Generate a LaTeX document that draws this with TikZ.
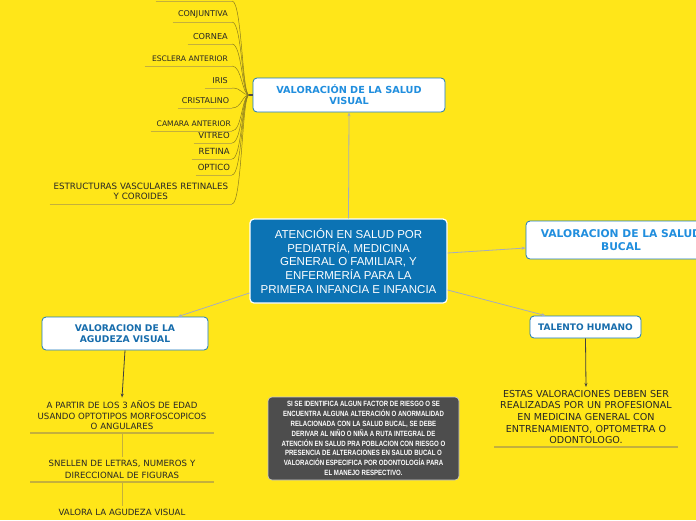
\documentclass[tikz,border=0pt]{standalone}
\usepackage{fontspec}
\setmainfont{DejaVu Sans}
\newfontfamily\arialfont{Liberation Sans}
\newfontfamily\narrowfont[FakeStretch=0.8]{Liberation Sans}
\usetikzlibrary{arrows.meta}
\definecolor{MapYellow}{RGB}{255,230,25}
\definecolor{MapBlue}{RGB}{12,115,180}
\definecolor{TitleBlue}{RGB}{32,142,222}
\definecolor{DeepBlue}{RGB}{22,108,172}
\definecolor{NoteGrey}{RGB}{77,77,77}
\definecolor{BranchOlive}{RGB}{140,125,30}
\definecolor{LineOlive}{RGB}{196,176,60}
\definecolor{LinkGrey}{RGB}{165,172,190}

\begin{document}
\begin{tikzpicture}[
  x=1pt, y=-1pt,
  mainbox/.style={draw=white, line width=1.2pt, fill=MapBlue, rounded corners=4pt,
                  text=white, align=center, minimum width=197pt, minimum height=84pt,
                  font=\arialfont\fontsize{11.5}{13.8}\selectfont},
  topicbox/.style={draw=TitleBlue!85!black, line width=0.8pt, fill=white, rounded corners=4pt,
                   text=TitleBlue, align=center, inner sep=2pt},
  notebox/.style={draw=white!80!black, line width=0.6pt, fill=NoteGrey, rounded corners=4pt,
                  text=white, align=center, minimum width=191pt, minimum height=83pt,
                  font=\narrowfont\bfseries\fontsize{7.6}{9.8}\selectfont},
  leaf/.style={anchor=south east, align=right, inner xsep=2pt, inner ysep=4pt,
               font=\fontsize{8}{10}\selectfont, text=black!85},
  plain/.style={align=center, inner xsep=0pt, inner ysep=3pt,
                font=\fontsize{8.6}{10.5}\selectfont, text=black!85},
  branch/.style={draw=BranchOlive, line width=0.5pt},
  uline/.style={draw=LineOlive, line width=0.7pt},
  cline/.style={draw=LineOlive, line width=1.4pt},
  link/.style={-{Stealth[length=4pt, width=3pt]}, draw=LinkGrey, line width=0.8pt},
  arr/.style={-{Stealth[length=4pt, width=3pt]}, draw=black!75, line width=0.8pt}
]
  \useasboundingbox (0,0) rectangle (696,520);
  \fill[MapYellow] (0,0) rectangle (696,520);

  %% Central topic
  \node[mainbox] (root) at (348.5,261) {ATENCIÓN EN SALUD POR\\PEDIATRÍA, MEDICINA\\GENERAL O FAMILIAR, Y\\ENFERMERÍA PARA LA\\PRIMERA INFANCIA E INFANCIA};

  %% Main topics
  \node[topicbox, minimum width=192pt, minimum height=34pt, font=\bfseries\fontsize{9.7}{11}\selectfont] (visual) at (349,95) {VALORACIÓN DE LA SALUD\\VISUAL};
  \node[topicbox, minimum width=190pt, minimum height=38pt, font=\bfseries\fontsize{10.7}{13}\selectfont] (bucal) at (621,240) {VALORACION DE LA SALUD\\BUCAL};
  \node[topicbox, minimum width=111pt, minimum height=22pt, text=DeepBlue, font=\bfseries\fontsize{9}{10}\selectfont] (talento) at (585.5,327) {TALENTO HUMANO};
  \node[topicbox, minimum width=166pt, minimum height=33pt, text=DeepBlue, font=\bfseries\fontsize{9.2}{11}\selectfont] (agudeza) at (125,333.5) {VALORACION DE LA\\AGUDEZA VISUAL};

  %% Floating note
  \node[notebox] (note) at (363.5,438.5) {SI SE IDENTIFICA ALGUN FACTOR DE RIESGO O SE\\ENCUENTRA ALGUNA ALTERACIÓN O ANORMALIDAD\\RELACIONADA CON LA SALUD BUCAL, SE DEBE\\DERIVAR AL NIÑO O NIÑA A RUTA INTEGRAL DE\\ATENCIÓN EN SALUD PRA POBLACION CON RIESGO O\\PRESENCIA DE ALTERACIONES EN SALUD BUCAL O\\VALORACIÓN ESPECIFICA POR ODONTOLOGÍA PARA\\EL MANEJO RESPECTIVO.};

  %% Leaves of the visual topic
  \coordinate (hub) at (249,95);
  \node[leaf, text width=72pt] (top)     at (232,1)   {};
  \node[leaf, text width=51pt, inner xsep=4pt] (conj)    at (232,22)  {CONJUNTIVA};
  \node[leaf, text width=36pt, inner xsep=4pt, font=\fontsize{8.2}{10}\selectfont] (cornea) at (232,44) {CORNEA};
  \node[leaf, text width=79pt, inner xsep=4pt, font=\fontsize{7.6}{10}\selectfont] (esclera) at (232,66) {ESCLERA ANTERIOR};
  \node[leaf, text width=19pt, inner xsep=4pt] (iris)    at (232,88)  {IRIS};
  \node[leaf, text width=46pt, inner xsep=4pt] (crist)   at (232,108) {CRISTALINO};
  \node[leaf, text width=79pt, inner xsep=1pt, font=\fontsize{7.6}{10}\selectfont] (camara) at (232,131) {CAMARA ANTERIOR};
  \node[leaf, text width=34pt, font=\fontsize{8.5}{10}\selectfont] (vitreo) at (232,143) {VITREO};
  \node[leaf, text width=36pt, font=\fontsize{8.5}{10}\selectfont] (retina) at (232,159) {RETINA};
  \node[leaf, text width=32pt, font=\fontsize{8.5}{10}\selectfont] (optico) at (232,175) {OPTICO};
  \node[leaf, text width=178pt, align=center, font=\fontsize{8.7}{10}\selectfont] (vasc) at (232,204) {ESTRUCTURAS VASCULARES RETINALES\\Y COROIDES};

  \draw[line width=1.2pt, draw=black!70] (visual.west) -- (hub);
  \foreach \n in {top,conj,cornea,esclera,iris,crist,camara,vitreo,retina,optico,vasc} {
    \draw[uline] (\n.south west) -- (\n.south east);
    \draw[branch] (\n.south east) .. controls +(10,0) and +(-7,0) .. (hub);
  }

  %% Details of the agudeza topic
  \node[plain, text width=183pt, anchor=south] (edad)    at (122,433) {A PARTIR DE LOS 3 AÑOS DE EDAD\\USANDO OPTOTIPOS MORFOSCOPICOS\\O ANGULARES};
  \node[plain, text width=183pt, anchor=south, font=\fontsize{8.6}{12}\selectfont] (snellen) at (122,482) {SNELLEN DE LETRAS, NUMEROS Y\\DIRECCIONAL DE FIGURAS};
  \node[plain, text width=183pt] (valora) at (122,512) {VALORA LA AGUDEZA VISUAL};
  \draw[cline] (edad.south west) -- (edad.south east);
  \draw[cline] (snellen.south west) -- (snellen.south east);
  \draw[uline] (edad.south) -- (snellen.north);
  \draw[uline] (snellen.south) -- (valora.north);

  %% Details of the talento topic
  \node[plain, text width=183pt, anchor=south, font=\fontsize{9.6}{11.6}\selectfont] (staff) at (586,447) {ESTAS VALORACIONES DEBEN SER\\REALIZADAS POR UN PROFESIONAL\\EN MEDICINA GENERAL CON\\ENTRENAMIENTO, OPTOMETRA O\\ODONTOLOGO.};
  \draw[cline] (staff.south west) -- (staff.south east);

  %% Links
  \draw[link] (root.north) -- (visual.south);
  \draw[link] ([yshift=8pt]root.east) -- ([yshift=-8pt]bucal.west);
  \draw[link] ([yshift=-29pt]root.east) -- ([xshift=-40pt]talento.north);
  \draw[link] ([yshift=-32pt]root.west) -- ([xshift=53pt]agudeza.north);
  \draw[arr] (agudeza.south) -- (edad.north);
  \draw[arr] (talento.south) -- (staff.north);
\end{tikzpicture}
\end{document}
